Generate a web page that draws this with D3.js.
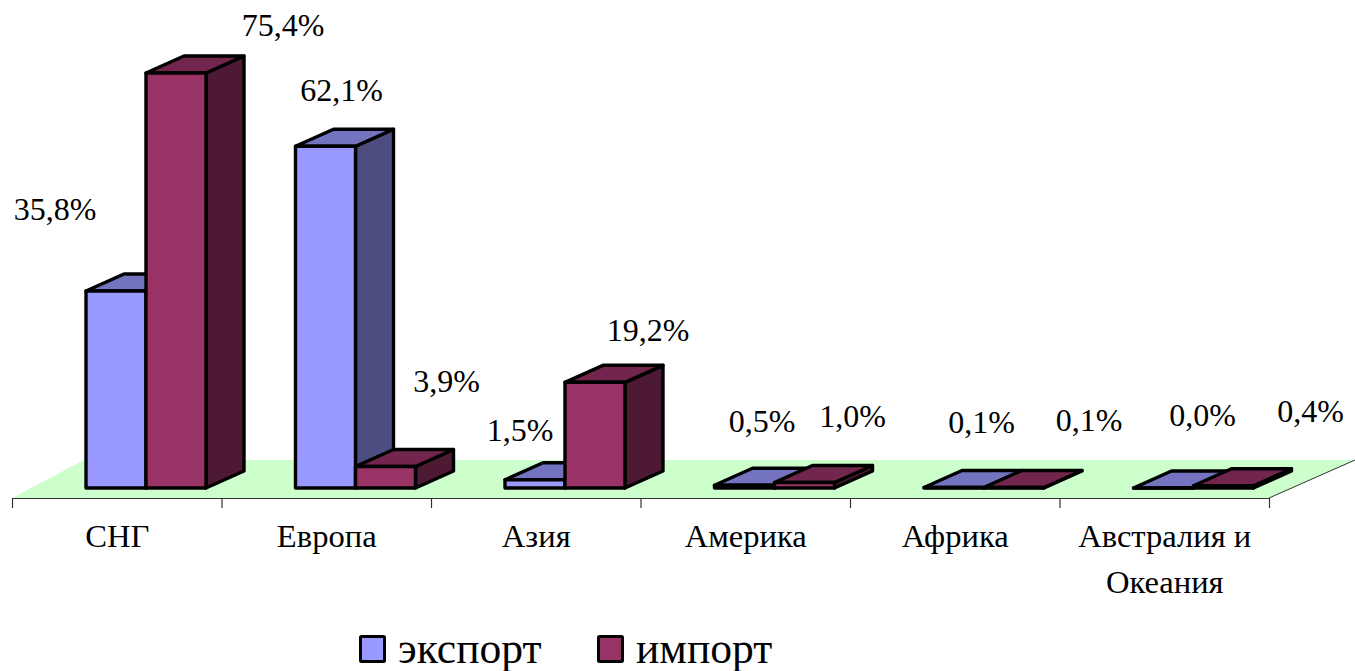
<!DOCTYPE html>
<html>
<head>
<meta charset="utf-8">
<script src="https://cdn.jsdelivr.net/npm/d3@7"></script>
<style>
  html, body { margin: 0; padding: 0; background: #fff; overflow: hidden; }
  text { font-family: "Liberation Serif", serif; fill: #000; }
</style>
</head>
<body>
<div id="chart"></div>
<script>
var categories = ["СНГ", "Европа", "Азия", "Америка", "Африка", ["Австралия и", "Океания"]];
var seriesNames = ["экспорт", "импорт"];
var exportValues = [35.8, 62.1, 1.5, 0.5, 0.1, 0.0];
var importValues = [75.4, 3.9, 19.2, 1.0, 0.1, 0.4];

var width = 1355, height = 671;
var depthX = 38, depthY = 17;
var floorLeft = 12, floorRight = 1269, floorFront = 498, baseY = 488, floorBack = 460;

// label nudges from the top centre of each bar, the labels were placed by hand in the original
var exportNudge = [[-61, -71], [16, -45], [-15, -39], [17.5, -53], [27.5, -54], [39, -62]];
var importNudge = [[107, -37], [61, -75], [53, -41], [48, -55], [75, -56], [87, -64]];

var colours = [
  {front: "#9999ff", top: "#7373bf", side: "#4d4d80"},
  {front: "#993366", top: "#73264d", side: "#4d1933"}
];

var svg = d3.select("#chart")
    .append("svg")
    .attr("width", width)
    .attr("height", height);

var x0 = d3.scaleBand()
    .domain(d3.range(categories.length))
    .range([floorLeft, floorRight]);

var x1 = d3.scaleBand()
    .domain([0, 1])
    .range([74, 194]);

var y = d3.scaleLinear()
    .domain([0, 75.4])
    .range([baseY, 73]);

// floor
svg.append("path")
    .attr("d", d3.line()([
      [floorLeft, floorFront], [floorRight, floorFront],
      [floorRight + 86, floorBack], [floorLeft + 72, floorBack]
    ]))
    .attr("fill", "#ccffcc");

svg.append("path")
    .attr("d", d3.line()([[floorRight, floorFront], [floorRight + 86, floorBack]]))
    .attr("fill", "none")
    .attr("stroke", "#333")
    .attr("stroke-width", 1);

// axis, ticks sit on the band edges
var tickScale = d3.scaleLinear()
    .domain([0, categories.length])
    .range([floorLeft, floorRight]);

var axis = svg.append("g")
    .attr("transform", "translate(0," + floorFront + ")")
    .call(d3.axisBottom(tickScale)
      .tickValues(d3.range(categories.length + 1))
      .tickSize(10)
      .tickSizeOuter(0)
      .tickFormat(""));
axis.selectAll("line, path").attr("stroke", "#333").attr("stroke-width", 1.2);

function drawBar(g, left, top, barWidth, c) {
  var right = left + barWidth;
  var face = g.append("g")
      .attr("stroke", "#000")
      .attr("stroke-width", 3.4)
      .attr("stroke-linejoin", "round");
  face.append("path")
      .attr("d", d3.line()([[right, top], [right + depthX, top - depthY], [right + depthX, baseY - depthY], [right, baseY]]) + "Z")
      .attr("fill", c.side);
  face.append("path")
      .attr("d", d3.line()([[left, top], [left + depthX, top - depthY], [right + depthX, top - depthY], [right, top]]) + "Z")
      .attr("fill", c.top);
  face.append("path")
      .attr("d", d3.line()([[left, top], [right, top], [right, baseY], [left, baseY]]) + "Z")
      .attr("fill", c.front);
}

var allSeries = [exportValues, importValues];
var allNudges = [exportNudge, importNudge];

categories.forEach(function(cat, i) {
  var g = svg.append("g").attr("class", "group");
  allSeries.forEach(function(values, s) {
    drawBar(g, x0(i) + x1(s), y(values[i]), x1.bandwidth(), colours[s]);
  });
});

// value labels on top of everything
allSeries.forEach(function(values, s) {
  svg.selectAll(".label" + s)
    .data(values)
    .enter()
    .append("text")
    .attr("class", "label" + s)
    .attr("x", function(d, i) { return x0(i) + x1(s) + x1.bandwidth() / 2 + allNudges[s][i][0]; })
    .attr("y", function(d, i) { return y(d) + allNudges[s][i][1]; })
    .attr("text-anchor", "middle")
    .style("font-size", "32px")
    .text(function(d) { return d.toFixed(1).replace(".", ",") + "%"; });
});

// category labels
categories.forEach(function(cat, i) {
  var lines = [].concat(cat);
  var t = svg.append("text")
      .attr("text-anchor", "middle")
      .style("font-size", "32.6px");
  lines.forEach(function(line, k) {
    t.append("tspan")
      .attr("x", x0(i) + x0.bandwidth() / 2 + 0.5)
      .attr("y", 547 + k * 46)
      .text(line);
  });
});

// legend
var legendX = [359, 597];
seriesNames.forEach(function(name, s) {
  svg.append("rect")
    .attr("x", legendX[s] + 1.5)
    .attr("y", 636.5)
    .attr("width", 24)
    .attr("height", 25)
    .attr("rx", 1)
    .attr("fill", colours[s].front)
    .attr("stroke", "#000")
    .attr("stroke-width", 3);
  svg.append("text")
    .attr("x", legendX[s] + 39)
    .attr("y", 663)
    .style("font-size", "43.6px")
    .text(name);
});
</script>
</body>
</html>
